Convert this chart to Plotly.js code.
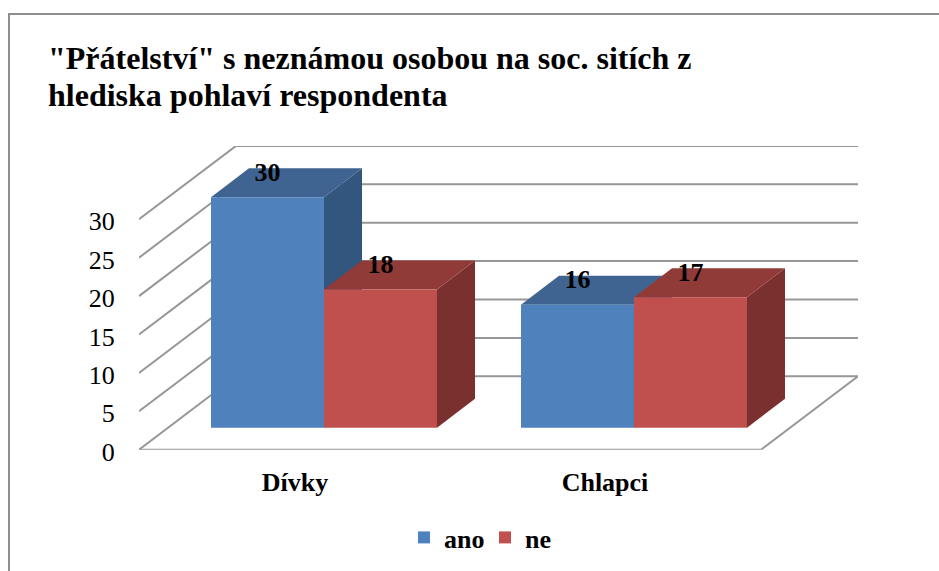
<!DOCTYPE html>
<html><head><meta charset="utf-8">
<script src="https://cdn.plot.ly/plotly-3.0.1.min.js"></script>
<style>html,body{margin:0;padding:0;background:#fff;overflow:hidden}#c{width:939px;height:571px}</style>
</head><body><div id="c"></div>
<script>
const categories = ['Dívky', 'Chlapci'];
const ano = [30, 16];
const ne = [18, 17];
const yTicks = [0, 5, 10, 15, 20, 25, 30];
const titleLines = ['"Přátelství" s neznámou osobou na soc. sitích z', 'hlediska pohlaví respondenta'];

// pixel frame
const W = 939, H = 571;
const pxX = 310, pxY = 7.68, cat0 = 295, floorY = 449.7, topY = 146, leftX = 139, rightX = 858;
const xFrom = p => (p - cat0) / pxX;
const xRange = [xFrom(leftX), xFrom(rightX)];
const yRange = [0, (floorY - topY) / pxY];
const floorL = xFrom(139), floorR = xFrom(761);
const wallDX = 97 / pxX, wallDY = 73.4 / pxY;
const insetX = 29 / pxX, insetY = 22 / pxY;
const barW = 113 / pxX, depthX = 38 / pxX, depthY = 29 / pxY;
const labelUp = 23 / pxY;

const BLUE = {front: '#4F81BD', top: '#3F6491', side: '#33567E'};
const RED = {front: '#C0504D', top: '#913B39', side: '#7A302E'};
const GRID = '#979797';

function gridTrace() {
  const x = [], y = [];
  yTicks.forEach(v => {
    x.push(floorL, floorL + wallDX, floorR + wallDX, null);
    y.push(v, v + wallDY, v + wallDY, null);
  });
  x.push(floorL, floorR, floorR + wallDX);
  y.push(0, 0, wallDY);
  return {x, y, mode: 'lines', line: {color: GRID, width: 2}, showlegend: false, hoverinfo: 'skip', cliponaxis: false};
}
function poly(x, y, color) {
  return {x, y, mode: 'lines', fill: 'toself', fillcolor: color, line: {width: 0, color}, showlegend: false, hoverinfo: 'skip'};
}
function faces(values, shift, col) {
  const out = [];
  values.forEach((v, i) => {
    const c = i + insetX + shift;
    const l = c - barW / 2, r = c + barW / 2, b = insetY, t = insetY + v;
    out.push(poly([r, r + depthX, r + depthX, r, r], [b, b + depthY, t + depthY, t, b], col.side));
    out.push(poly([l, l + depthX, r + depthX, r, l], [t, t + depthY, t + depthY, t, t], col.top));
  });
  return out;
}
function bars(name, values, shift, col) {
  return {type: 'bar', name, x: values.map((v, i) => i + insetX + shift), y: values,
    base: values.map(() => insetY), width: barW, xaxis: 'x2', yaxis: 'y2',
    marker: {color: col.front, line: {width: 0}}, hoverinfo: 'skip'};
}
function labels(values, shift) {
  return {x: values.map((v, i) => i + insetX + shift), y: values.map(v => v + insetY + labelUp),
    text: values.map(String), mode: 'text', textposition: 'middle center', xaxis: 'x2', yaxis: 'y2',
    textfont: {family: 'Liberation Serif', size: 26, color: '#000', weight: 700}, showlegend: false, hoverinfo: 'skip', cliponaxis: false};
}
const s = barW / 2;
const traces = [gridTrace(), ...faces(ano, -s, BLUE), ...faces(ne, s, RED),
  bars('ano', ano, -s, BLUE), bars('ne', ne, s, RED), labels(ano, -s), labels(ne, s)];

const layout = {
  width: W, height: H, margin: {l: 0, r: 0, t: 0, b: 0}, paper_bgcolor: '#fff', plot_bgcolor: 'rgba(0,0,0,0)',
  font: {family: 'Liberation Serif', color: '#000'},
  title: {text: titleLines.map(t => '<span style="font-size:32px">' + t + '</span>').join('<br>'),
    xref: 'container', yref: 'container', x: 48 / W, xanchor: 'left', y: 1 - 69 / H, yanchor: 'top',
    font: {family: 'Liberation Serif', size: 28.46, weight: 700, color: '#000'}},
  barmode: 'overlay',
  xaxis: {domain: [leftX / W, rightX / W], range: xRange, showgrid: false, zeroline: false, showline: false,
    tickmode: 'array', tickvals: categories.map((c, i) => i), ticktext: categories, ticks: 'outside', ticklen: 9, tickcolor: 'rgba(0,0,0,0)',
    tickfont: {family: 'Liberation Serif', size: 26, weight: 700, color: '#000'}},
  yaxis: {domain: [1 - floorY / H, 1 - topY / H], range: yRange, showgrid: false, zeroline: false, showline: false,
    tickmode: 'array', tickvals: yTicks, ticks: 'outside', ticklen: 18, tickcolor: 'rgba(0,0,0,0)', ticklabelshift: 2,
    tickfont: {family: 'Liberation Serif', size: 26, color: '#000'}},
  xaxis2: {overlaying: 'x', range: xRange, visible: false, anchor: 'y2'},
  yaxis2: {overlaying: 'y', range: yRange, visible: false, anchor: 'x2'},
  showlegend: true,
  legend: {orientation: 'h', x: 404 / W, xanchor: 'left', y: 1 - 514 / H, yanchor: 'top', traceorder: 'normal',
    entrywidth: 36, entrywidthmode: 'pixels',
    font: {family: 'Liberation Serif', size: 26, weight: 700, color: '#000'}, bgcolor: 'rgba(0,0,0,0)', itemclick: false, itemdoubleclick: false},
  shapes: [{type: 'rect', xref: 'paper', yref: 'paper', x0: 9 / W, x1: 1.1, y0: -0.1, y1: 1 - 14 / H, line: {color: '#8E8E8E', width: 2}, fillcolor: 'rgba(0,0,0,0)', layer: 'below'}]
};
Plotly.newPlot('c', traces, layout, {staticPlot: true, displayModeBar: false});
</script></body></html>
